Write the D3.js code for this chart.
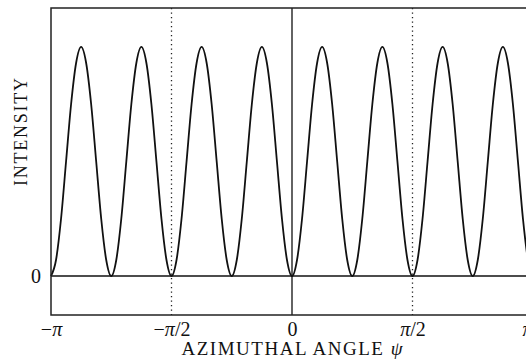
<!DOCTYPE html>
<html>
<head>
<meta charset="utf-8">
<script src="https://cdn.jsdelivr.net/npm/d3@7"></script>
<style>
    body { margin: 0; background: #fff; }
    text { font-family: "Liberation Serif", "DejaVu Serif", serif; fill: #111; }
</style>
</head>
<body>
<div id="chart"></div>
<script>
// azimuthal angle samples, in degrees
const angleDeg = [
    -180, -176.25, -172.5, -168.75, -165, -161.25, -157.5, -153.75, -150, -146.25, -142.5, -138.75,
    -135, -131.25, -127.5, -123.75, -120, -116.25, -112.5, -108.75, -105, -101.25, -97.5, -93.75,
    -90, -86.25, -82.5, -78.75, -75, -71.25, -67.5, -63.75, -60, -56.25, -52.5, -48.75,
    -45, -41.25, -37.5, -33.75, -30, -26.25, -22.5, -18.75, -15, -11.25, -7.5, -3.75,
    0, 3.75, 7.5, 11.25, 15, 18.75, 22.5, 26.25, 30, 33.75, 37.5, 41.25,
    45, 48.75, 52.5, 56.25, 60, 63.75, 67.5, 71.25, 75, 78.75, 82.5, 86.25,
    90, 93.75, 97.5, 101.25, 105, 108.75, 112.5, 116.25, 120, 123.75, 127.5, 131.25,
    135, 138.75, 142.5, 146.25, 150, 153.75, 157.5, 161.25, 165, 168.75, 172.5, 176.25,
    180
]
// intensity (peak = 1)
const intensity = [
    0, 0.07, 0.25, 0.5, 0.75, 0.93, 1, 0.93, 0.75, 0.5, 0.25, 0.07,
    0, 0.07, 0.25, 0.5, 0.75, 0.93, 1, 0.93, 0.75, 0.5, 0.25, 0.07,
    0, 0.07, 0.25, 0.5, 0.75, 0.93, 1, 0.93, 0.75, 0.5, 0.25, 0.07,
    0, 0.07, 0.25, 0.5, 0.75, 0.93, 1, 0.93, 0.75, 0.5, 0.25, 0.07,
    0, 0.07, 0.25, 0.5, 0.75, 0.93, 1, 0.93, 0.75, 0.5, 0.25, 0.07,
    0, 0.07, 0.25, 0.5, 0.75, 0.93, 1, 0.93, 0.75, 0.5, 0.25, 0.07,
    0, 0.07, 0.25, 0.5, 0.75, 0.93, 1, 0.93, 0.75, 0.5, 0.25, 0.07,
    0, 0.07, 0.25, 0.5, 0.75, 0.93, 1, 0.93, 0.75, 0.5, 0.25, 0.07,
    0
]
const xTickValues = [-180, -90, 0, 90, 180]
const xTickLabels = [["−", "π", ""], ["−", "π", "/2"], ["", "0", ""], ["", "π", "/2"], ["", "π", ""]]
const yTickValues = [0]
const yTickLabels = ["0"]
const dottedAt = [-90, 90]

const width = 526, height = 360
const margin = {left: 51, top: 8, bottom: 45}
const plotRight = 533   // frame runs off the right edge

let svg = d3.select("#chart")
            .append("svg")
                .attr("width", width)
                .attr("height", height)

let x = d3.scaleLinear().domain([-180, 180]).range([margin.left, plotRight])
let y = d3.scaleLinear().domain([-0.17, 1.17]).range([height - margin.bottom, margin.top])

let data = angleDeg.map((a, i) => ({a: a, v: intensity[i]}))

// dotted guides at +-pi/2
svg.selectAll("line.guide")
    .data(dottedAt)
    .enter().append("line")
        .attr("class", "guide")
        .attr("x1", d => x(d)).attr("x2", d => x(d))
        .attr("y1", y.range()[1]).attr("y2", y.range()[0])
        .attr("stroke", "#222")
        .attr("stroke-width", 1.3)
        .attr("stroke-dasharray", "1.3,3.2")

// solid line at psi = 0 and zero baseline
svg.append("line")
    .attr("x1", x(0)).attr("x2", x(0))
    .attr("y1", y.range()[1]).attr("y2", y.range()[0])
    .attr("stroke", "#222").attr("stroke-width", 1.4)
svg.append("line")
    .attr("x1", x(-180)).attr("x2", x(180))
    .attr("y1", y(0)).attr("y2", y(0))
    .attr("stroke", "#111").attr("stroke-width", 1.5)

// curve
svg.append("path")
    .datum(data)
    .attr("fill", "none")
    .attr("stroke", "#111")
    .attr("stroke-width", 1.8)
    .attr("d", d3.line().x(d => x(d.a)).y(d => y(d.v)).curve(d3.curveMonotoneX))

// frame
svg.append("rect")
    .attr("x", x(-180)).attr("y", y.range()[1])
    .attr("width", x(180) - x(-180))
    .attr("height", y.range()[0] - y.range()[1])
    .attr("fill", "none")
    .attr("stroke", "#222")
    .attr("stroke-width", 1.5)

// axes (labels only)
let xAxis = svg.append("g")
    .attr("transform", `translate(0,${y.range()[0]})`)
    .call(d3.axisBottom(x).tickValues(xTickValues).tickSize(0).tickPadding(7).tickFormat(""))
xAxis.select(".domain").remove()
xAxis.selectAll(".tick text")
    .style("font-size", "20px")
    .attr("dx", d => d == 180 ? -6 : 0)   // last label peeks in at the edge
    .each(function(d, i) {
        let t = d3.select(this)
        xTickLabels[i].forEach((s, j) => {
            if (!s) return
            t.append("tspan").text(s).style("font-style", j == 1 && s != "0" ? "italic" : "normal")
        })
    })

let yAxis = svg.append("g")
    .attr("transform", `translate(${margin.left},0)`)
    .call(d3.axisLeft(y).tickValues(yTickValues).tickSize(0).tickPadding(10)
            .tickFormat((d, i) => yTickLabels[i]))
yAxis.select(".domain").remove()
yAxis.selectAll(".tick text").style("font-size", "20px")

// axis titles
let xTitle = svg.append("text")
    .attr("x", x(0))
    .attr("y", 355)
    .attr("text-anchor", "middle")
    .attr("textLength", 221)
    .attr("lengthAdjust", "spacing")
    .style("font-size", "19px")
xTitle.append("tspan").text("AZIMUTHAL ANGLE ")
xTitle.append("tspan").text("ψ").style("font-style", "italic")

svg.append("text")
    .attr("transform", `translate(27,132) rotate(-90)`)
    .attr("text-anchor", "middle")
    .attr("textLength", 108)
    .attr("lengthAdjust", "spacing")
    .style("font-size", "18px")
    .text("INTENSITY")
</script>
</body>
</html>
